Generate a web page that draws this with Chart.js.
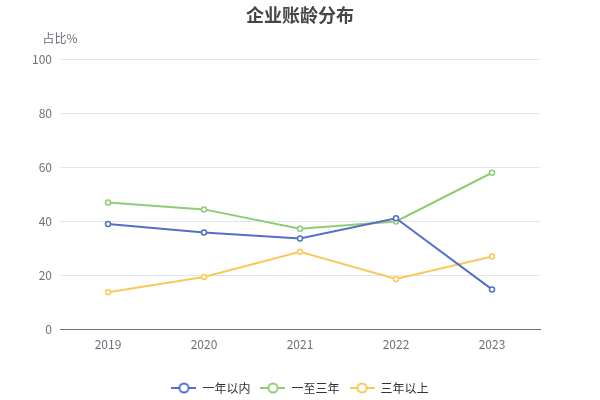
<!DOCTYPE html>
<html>
  <head>
    <meta charset="utf-8" />
  </head>
  <body style="margin: 0; background: #fff">
    <canvas id="ageChart" width="600" height="400"></canvas>

    <script src="https://cdn.jsdelivr.net/npm/chart.js"></script>

    <script>
      const years = ["2019", "2020", "2021", "2022", "2023"];
      const withinOneYear = [39.0, 35.8, 33.6, 41.1, 14.7];
      const oneToThreeYears = [47.0, 44.4, 37.2, 39.9, 58.0];
      const overThreeYears = [13.6, 19.3, 28.7, 18.6, 26.9];
      const seriesNames = ["一年以内", "一至三年", "三年以上"];
      const colors = ["#5470c6", "#91cc75", "#fac858"];

      const FONT = "'Noto Sans CJK SC', 'Noto Sans', sans-serif";

      // legend icon: short line with a hollow circle, like echarts
      function makeIcon(color) {
        const c = document.createElement("canvas");
        c.width = 25;
        c.height = 14;
        const g = c.getContext("2d");
        g.strokeStyle = color;
        g.lineWidth = 2;
        g.beginPath();
        g.moveTo(0, 7);
        g.lineTo(25, 7);
        g.stroke();
        g.beginPath();
        g.arc(12.5, 7, 4.5, 0, Math.PI * 2);
        g.fillStyle = "#fff";
        g.fill();
        g.stroke();
        return c;
      }
      const icons = colors.map(makeIcon);

      const axisName = {
        id: "axisName",
        afterDraw(chart) {
          const ctx = chart.ctx;
          ctx.save();
          ctx.font = "12px " + FONT;
          ctx.fillStyle = "#6E7079";
          ctx.textAlign = "center";
          ctx.textBaseline = "middle";
          ctx.fillText("占比%", chart.chartArea.left, 38);
          ctx.restore();
        },
      };

      function line(label, values, color) {
        return {
          label: label,
          data: values,
          borderColor: color,
          backgroundColor: color,
          borderWidth: 2,
          pointRadius: 2.5,
          pointBorderWidth: 1.5,
          pointBackgroundColor: "#fff",
          pointBorderColor: color,
          tension: 0,
        };
      }

      new Chart(document.getElementById("ageChart"), {
        type: "line",
        data: {
          labels: years,
          datasets: [
            line(seriesNames[0], withinOneYear, colors[0]),
            line(seriesNames[1], oneToThreeYears, colors[1]),
            line(seriesNames[2], overThreeYears, colors[2]),
          ],
        },
        options: {
          responsive: false,
          animation: false,
          layout: { padding: { top: 4, left: 0, right: 0, bottom: -4 } },
          plugins: {
            title: {
              display: true,
              text: "企业账龄分布",
              color: "#464646",
              font: { family: FONT, size: 18, weight: "bold" },
              padding: { top: 0, bottom: 34 },
            },
            legend: {
              position: "bottom",
              labels: {
                color: "#333",
                font: { family: FONT, size: 12 },
                usePointStyle: true,
                pointStyleWidth: 25,
                padding: 10,
                generateLabels(chart) {
                  const items =
                    Chart.defaults.plugins.legend.labels.generateLabels(chart);
                  items.forEach((it, i) => {
                    it.pointStyle = icons[i];
                  });
                  return items;
                },
              },
            },
            tooltip: { enabled: false },
          },
          scales: {
            x: {
              offset: true,
              grid: { display: false, drawTicks: false },
              border: { color: "#6E7079", width: 1 },
              ticks: {
                color: "#6E7079",
                font: { family: FONT, size: 12 },
                padding: 8,
              },
              afterFit(scale) {
                scale.height = 43;
              },
            },
            y: {
              min: 0,
              max: 100,
              grid: { color: "#E0E6F1", drawTicks: false },
              border: { display: false },
              ticks: {
                stepSize: 20,
                color: "#6E7079",
                font: { family: FONT, size: 12 },
                padding: 8,
              },
              afterFit(scale) {
                scale.width = 60;
              },
            },
            // empty right gutter so the plot ends at 540 and title stays centred
            gutter: {
              type: "linear",
              position: "right",
              grid: { display: false, drawTicks: false },
              border: { display: false },
              ticks: { display: false },
              afterFit(scale) {
                scale.width = 60;
              },
            },
          },
        },
        plugins: [axisName],
      });
    </script>
  </body>
</html>
